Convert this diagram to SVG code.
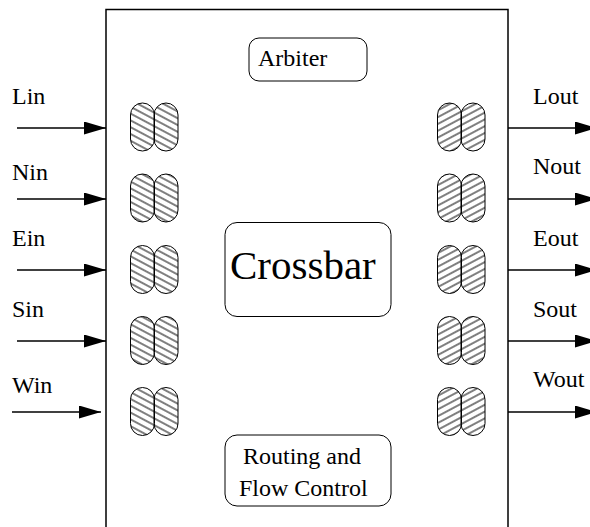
<svg xmlns="http://www.w3.org/2000/svg" width="590" height="527" viewBox="0 0 590 527">
  <defs>
    <!-- hatching for input buffers (falling to the right) -->
    <pattern id="hatchIn" patternUnits="userSpaceOnUse" width="8" height="6" patternTransform="rotate(28)">
      <line x1="-1" y1="3" x2="9" y2="3" stroke="#000" stroke-width="1"/>
    </pattern>
    <!-- hatching for output buffers (rising to the right) -->
    <pattern id="hatchOut" patternUnits="userSpaceOnUse" width="8" height="6" patternTransform="rotate(-28)">
      <line x1="-1" y1="3" x2="9" y2="3" stroke="#000" stroke-width="1"/>
    </pattern>
    <marker id="head" markerUnits="userSpaceOnUse" markerWidth="22" markerHeight="13" refX="22" refY="6.5" orient="auto">
      <path d="M0,0 L22,6.5 L0,13 Z" fill="#000"/>
    </marker>
  </defs>
  <style>
    text { font-family: "Liberation Serif", "Times New Roman", serif; font-size: 24px; fill: #000; }
    .frame { fill: #fff; stroke: #000; stroke-width: 1.5; }
    .box { fill: #fff; stroke: #000; stroke-width: 1; }
    .flit-in { fill: url(#hatchIn); stroke: #000; stroke-width: 1; }
    .flit-out { fill: url(#hatchOut); stroke: #000; stroke-width: 1; }
    .link { stroke: #000; stroke-width: 1.5; fill: none; marker-end: url(#head); }
  </style>

  <rect width="590" height="527" fill="#fff"/>

  <!-- router outline -->
  <g id="router">
    <rect class="frame" x="106" y="9.5" width="402" height="530"/>
  </g>

  <g id="arbiter">
    <rect class="box" x="249" y="38" width="118" height="43" rx="10" ry="10"/>
    <text x="258" y="66">Arbiter</text>
  </g>

  <g id="crossbar">
    <rect class="box" x="225" y="222.5" width="166" height="94" rx="12" ry="12"/>
    <text x="230" y="279" style="font-size:41px">Crossbar</text>
  </g>

  <g id="routing">
    <rect class="box" x="225" y="435" width="166" height="71" rx="12" ry="12"/>
    <text x="243" y="464">Routing and</text>
    <text x="239" y="496">Flow Control</text>
  </g>

  <!-- input buffers, two flit slots each -->
  <g id="buf-lin">
    <rect class="flit-in" x="130.5" y="103" width="24" height="48" rx="12" ry="12"/>
    <rect class="flit-in" x="154" y="103" width="24" height="48" rx="12" ry="12"/>
  </g>
  <g id="buf-nin">
    <rect class="flit-in" x="130.5" y="174" width="24" height="48" rx="12" ry="12"/>
    <rect class="flit-in" x="154" y="174" width="24" height="48" rx="12" ry="12"/>
  </g>
  <g id="buf-ein">
    <rect class="flit-in" x="130.5" y="245.5" width="24" height="48" rx="12" ry="12"/>
    <rect class="flit-in" x="154" y="245.5" width="24" height="48" rx="12" ry="12"/>
  </g>
  <g id="buf-sin">
    <rect class="flit-in" x="130.5" y="316.5" width="24" height="48" rx="12" ry="12"/>
    <rect class="flit-in" x="154" y="316.5" width="24" height="48" rx="12" ry="12"/>
  </g>
  <g id="buf-win">
    <rect class="flit-in" x="130.5" y="387.5" width="24" height="48" rx="12" ry="12"/>
    <rect class="flit-in" x="154" y="387.5" width="24" height="48" rx="12" ry="12"/>
  </g>

  <!-- output buffers -->
  <g id="buf-lout">
    <rect class="flit-out" x="437.5" y="103" width="24" height="48" rx="12" ry="12"/>
    <rect class="flit-out" x="461" y="103" width="24" height="48" rx="12" ry="12"/>
  </g>
  <g id="buf-nout">
    <rect class="flit-out" x="437.5" y="174" width="24" height="48" rx="12" ry="12"/>
    <rect class="flit-out" x="461" y="174" width="24" height="48" rx="12" ry="12"/>
  </g>
  <g id="buf-eout">
    <rect class="flit-out" x="437.5" y="245.5" width="24" height="48" rx="12" ry="12"/>
    <rect class="flit-out" x="461" y="245.5" width="24" height="48" rx="12" ry="12"/>
  </g>
  <g id="buf-sout">
    <rect class="flit-out" x="437.5" y="316.5" width="24" height="48" rx="12" ry="12"/>
    <rect class="flit-out" x="461" y="316.5" width="24" height="48" rx="12" ry="12"/>
  </g>
  <g id="buf-wout">
    <rect class="flit-out" x="437.5" y="387.5" width="24" height="48" rx="12" ry="12"/>
    <rect class="flit-out" x="461" y="387.5" width="24" height="48" rx="12" ry="12"/>
  </g>

  <!-- port labels -->
  <g id="port-labels">
    <text x="12" y="104">Lin</text>
    <text x="12" y="180">Nin</text>
    <text x="12" y="246">Ein</text>
    <text x="12" y="317">Sin</text>
    <text x="12" y="393">Win</text>
    <text x="533" y="104">Lout</text>
    <text x="533" y="174">Nout</text>
    <text x="533" y="246">Eout</text>
    <text x="533" y="317">Sout</text>
    <text x="533" y="387">Wout</text>
  </g>

  <!-- links into and out of the router -->
  <g id="connectors">
    <line class="link" x1="17" y1="128" x2="106" y2="128"/>
    <line class="link" x1="17" y1="199" x2="106" y2="199"/>
    <line class="link" x1="17" y1="270" x2="106" y2="270"/>
    <line class="link" x1="17" y1="341" x2="106" y2="341"/>
    <line class="link" x1="12" y1="412" x2="101" y2="412"/>
    <line class="link" x1="508" y1="128" x2="597" y2="128"/>
    <line class="link" x1="508" y1="199" x2="597" y2="199"/>
    <line class="link" x1="508" y1="270" x2="597" y2="270"/>
    <line class="link" x1="508" y1="341" x2="597" y2="341"/>
    <line class="link" x1="508" y1="412" x2="597" y2="412"/>
  </g>
</svg>
